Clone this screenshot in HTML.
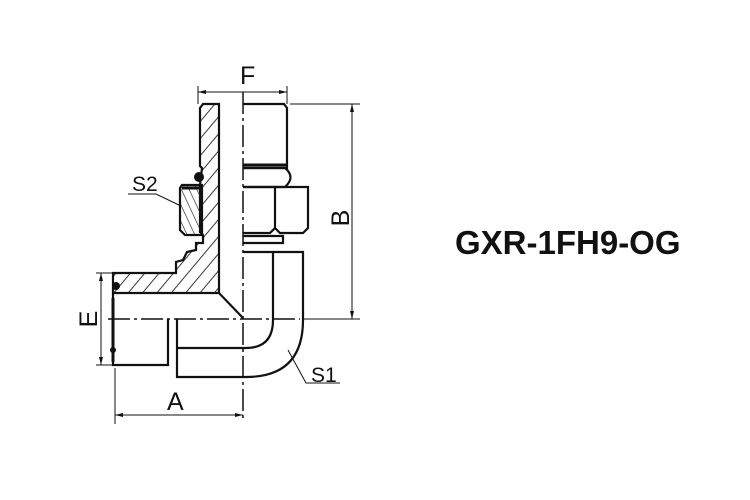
<!DOCTYPE html>
<html><head><style>body{margin:0;background:#fff}svg{display:block}</style></head><body>
<svg width="750" height="500" viewBox="0 0 750 500" xmlns="http://www.w3.org/2000/svg" font-family="Liberation Sans, sans-serif">
<defs>
<pattern id="h" width="11" height="11" patternUnits="userSpaceOnUse" patternTransform="rotate(40)">
<line x1="0" y1="0" x2="0" y2="11" stroke="#222" stroke-width="1.8"/></pattern>
<pattern id="h2" width="7" height="7" patternUnits="userSpaceOnUse" patternTransform="rotate(-25)">
<line x1="0" y1="0" x2="0" y2="7" stroke="#222" stroke-width="1.3"/></pattern>
</defs>
<g fill="none" stroke="#111" stroke-width="2.2">
<path d="M200,108 L203,104 L219,104 L219,293 L113,293 L113,273 L176,273 L176,262 L183,260 L187,252 L196,250 L196,243 L203,243 L203,235 L200,232 L200,185 L202,168 L200,166 Z" fill="url(#h)"/>
<line x1="219" y1="293" x2="243" y2="318"/>
<path d="M243,104 L284,104 L287,108 L287,168 L243,168"/>
<line x1="243" y1="165" x2="287" y2="165" stroke-width="3"/>
<path d="M243,168 L285,168 Q296,177 285,187 L243,187"/>
<path d="M243,187 L308,187 L308,228 L303,233 L280,233 L275,228 L270,233 L243,233"/>
<line x1="275" y1="187" x2="275" y2="228"/>
<path d="M243,236 L283,236 L283,243 L243,243"/>
<path d="M243,252 L303,252 L303,320 Q303,377 246,377 L177,377 L177,319 M177,348 L246,348 Q273,348 273,320 L273,252"/>
<path d="M113,293 L113,365 L168,365 L168,319"/>
<line x1="113" y1="298" x2="113" y2="362" stroke-width="3"/>
<path d="M182,185 L202,185 L202,235 L185,235 L180,230 L180,188 Z" fill="url(#h2)"/>
<line x1="182" y1="188" x2="202" y2="188" stroke-width="3"/>
</g>
<circle cx="199" cy="177" r="5" fill="#111"/>
<circle cx="116" cy="286" r="4" fill="#111"/>
<circle cx="113" cy="350" r="3" fill="#111"/>
<g stroke="#111" stroke-width="1.5" stroke-dasharray="22,4,3,4">
<line x1="243" y1="92" x2="243" y2="422"/>
<line x1="108" y1="319" x2="300" y2="319"/>
</g>
<g stroke="#111" stroke-width="1">
<line x1="198" y1="86" x2="198" y2="104"/><line x1="287" y1="86" x2="287" y2="104"/>
<line x1="198" y1="92" x2="287" y2="92"/>
<line x1="290" y1="104" x2="360" y2="104"/><line x1="303" y1="319" x2="360" y2="319"/>
<line x1="352" y1="104" x2="352" y2="319"/>
<line x1="96" y1="273" x2="113" y2="273"/><line x1="96" y1="365" x2="113" y2="365"/>
<line x1="101" y1="273" x2="101" y2="365"/>
<line x1="115" y1="368" x2="115" y2="424"/>
<line x1="115" y1="415" x2="243" y2="415"/>
<polyline points="128,194 156,194 181,206" fill="none"/>
<polyline points="288,350 306,383 340,383" fill="none"/>
</g>
<g fill="#111">
<path d="M198,92 l8,-2 v4z M287,92 l-8,-2 v4z"/>
<path d="M352,104 l-2,8 h4z M352,319 l-2,-8 h4z"/>
<path d="M101,273 l-2,8 h4z M101,365 l-2,-8 h4z"/>
<path d="M115,415 l8,-2 v4z M243,415 l-8,-2 v4z"/>
</g>
<g fill="#111" font-size="25">
<text x="240" y="84">F</text>
<text x="167" y="410">A</text>
<text x="132" y="191" font-size="21">S2</text>
<text x="311" y="382" font-size="21">S1</text>
<text transform="translate(349,218) rotate(-90)" text-anchor="middle">B</text>
<text transform="translate(97,319) rotate(-90)" text-anchor="middle">E</text>
<text x="455" y="254" font-size="33" font-weight="bold">GXR-1FH9-OG</text>
</g>
</svg>
</body></html>
